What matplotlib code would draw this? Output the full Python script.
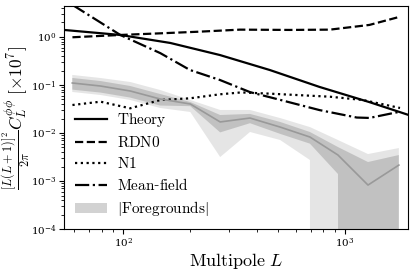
import numpy as np
import matplotlib
matplotlib.use("Agg")
import matplotlib.pyplot as plt

plt.rcParams['mathtext.fontset'] = 'cm'
plt.rcParams['font.family'] = ['DejaVu Serif']

# ---- data ----
theory_L = [54, 97, 163, 273, 458, 768, 1289, 1923]
theory_v = [1.40, 1.10, 0.75, 0.42, 0.205, 0.091, 0.044, 0.024]

rdn0_L = [59, 97, 147, 222, 336, 565, 855, 1289, 1750]
rdn0_v = [0.985, 1.10, 1.19, 1.29, 1.42, 1.40, 1.42, 1.78, 2.6]

n1_L = [59, 79, 107.5, 147, 200, 273, 340, 458, 855, 1205, 1771]
n1_v = [0.0383, 0.0449, 0.0327, 0.0487, 0.0528, 0.064, 0.070, 0.066, 0.057, 0.0487, 0.0332]

mf_L = [59, 97, 147, 200, 273, 373, 510, 768, 1130, 1289, 1750]
mf_v = [4.66, 1.10, 0.46, 0.205, 0.127, 0.071, 0.049, 0.030, 0.021, 0.0206, 0.0275]

fg_L = [58.9, 78.8, 107.5, 146.7, 200.6, 273.6, 373, 510, 695, 930, 1270, 1750]
fg_mean = [0.110, 0.0953, 0.0750, 0.0511, 0.0402, 0.0170, 0.0205, 0.0133, 0.00825, 0.00348, 0.000825, 0.00215]
fg_hi1 = [0.140, 0.121, 0.0953, 0.0649, 0.0442, 0.0237, 0.025, 0.0170, 0.0105, 0.0051, 0.00249, 0.00348]
fg_lo1 = [0.080, 0.0696, 0.0547, 0.0373, 0.0362, 0.0103, 0.016, 0.0096, 0.0060, 0.0014, -0.00084, -0.0001]
fg_hi2 = [0.162, 0.140, 0.1155, 0.0787, 0.0487, 0.0302, 0.0302, 0.0205, 0.0133, 0.00715, 0.00365, 0.00487]
fg_lo2 = [0.0715, 0.0619, 0.0487, 0.0332, 0.0274, 0.00316, 0.0105, 0.00715, 0.00274, -0.00019, -0.0020, -0.00057]

fig = plt.figure(figsize=(4.15, 2.75), dpi=100)
ax = fig.add_axes([0.154, 0.167, 0.829, 0.811])

ax.plot(theory_L, theory_v, color='k', lw=1.6, ls='-', label=r'$\mathrm{Theory}$')
ax.plot(rdn0_L, rdn0_v, color='k', lw=1.6, ls='--', label=r'$\mathrm{RDN0}$')
ax.plot(n1_L, n1_v, color='k', lw=1.6, ls=(0, (1, 1.6)), label=r'$\mathrm{N1}$')
ax.plot(mf_L, mf_v, color='k', lw=1.6, ls='-.', label=r'$\mathrm{Mean}$-$\mathrm{field}$')

ax.fill_between(fg_L, fg_lo2, fg_hi2, color='0.5', alpha=0.2, lw=0)
ax.fill_between(fg_L, fg_lo1, fg_hi1, color='0.5', alpha=0.35, lw=0,
                label=r'$|\mathrm{Foregrounds}|$')
ax.plot(fg_L, fg_mean, color='0.6', lw=1.2)

ax.set_xscale('log')
ax.set_yscale('log')
ax.set_xlim(54, 1923)
ax.set_ylim(1e-4, 4.4)

ax.tick_params(which='major', length=3.5, width=0.8, labelsize=7.5, pad=2)
ax.tick_params(which='minor', length=2, width=0.6)

ax.set_xlabel(r'$\mathrm{Multipole}\ L$', fontsize=13, labelpad=1)
ax.set_ylabel(r'$\frac{[L(L+1)]^2}{2\pi}C_L^{\phi\phi}\ [\times 10^7]$', fontsize=12.5)
ax.yaxis.set_label_coords(-0.092, 0.5)

ax.legend(loc='lower left', frameon=False, fontsize=11, handlelength=2.1,
          handletextpad=0.7, labelspacing=0.4, borderaxespad=0.3)

fig.savefig('out.png', dpi=100)
